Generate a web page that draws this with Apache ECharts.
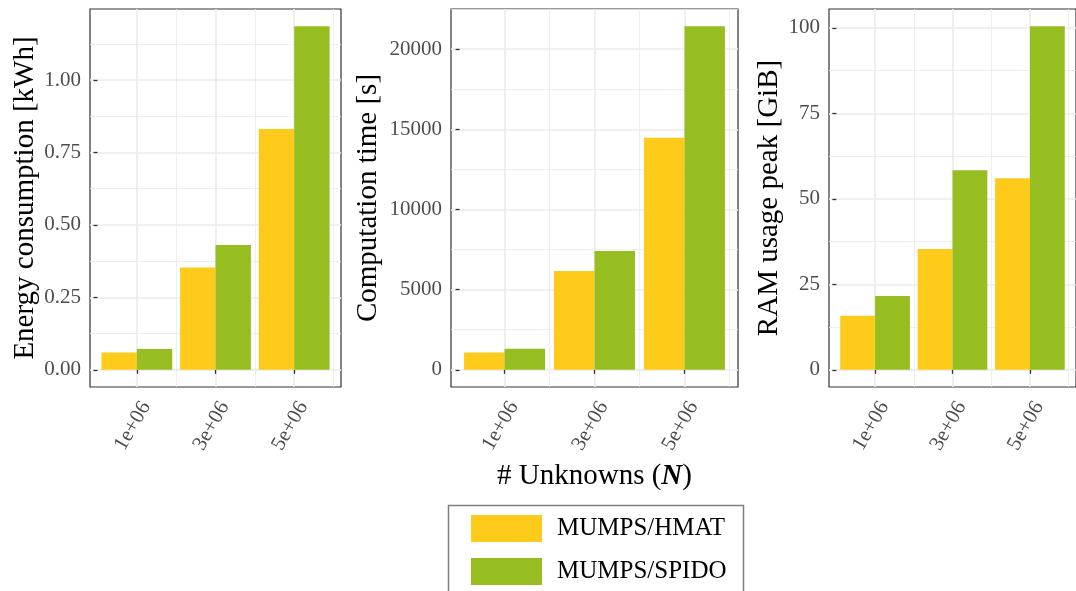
<!DOCTYPE html>
<html>
<head>
<meta charset="utf-8">
<script src="https://cdn.jsdelivr.net/npm/echarts@6/dist/echarts.min.js"></script>
<style>
html,body{margin:0;padding:0;background:#fff;}
#chart{width:1076px;height:591px;}
</style>
</head>
<body>
<div id="chart"></div>
<script>
// ---- data ----
const unknowns = [1e6, 3e6, 5e6];
const xTickLabels = ['1e+06', '3e+06', '5e+06'];
const xMinorTicks = [2e6, 4e6, 6e6];
const seriesNames = ['MUMPS/HMAT', 'MUMPS/SPIDO'];

const energyHMAT = [0.060, 0.353, 0.831];
const energySPIDO = [0.072, 0.431, 1.186];
const timeHMAT = [1078, 6168, 14474];
const timeSPIDO = [1308, 7414, 21433];
const ramHMAT = [15.8, 35.35, 56.0];
const ramSPIDO = [21.6, 58.4, 100.5];

const energyTicks = [0, 0.25, 0.5, 0.75, 1.0];
const energyMinor = [0.125, 0.375, 0.625, 0.875, 1.125];
const timeTicks = [0, 5000, 10000, 15000, 20000];
const timeMinor = [2500, 7500, 12500, 17500, 22500];
const ramTicks = [0, 25, 50, 75, 100];
const ramMinor = [12.5, 37.5, 62.5, 87.5];

const yTitles = ['Energy consumption [kWh]', 'Computation time [s]', 'RAM usage peak [GiB]'];

// ---- style ----
const colors = ['#FECB1A', '#97BE20'];
const FONT = 'Liberation Serif';
const gridColor = '#EBEBEB';

const panels = [
  {left: 90, width: 251, hmat: energyHMAT, spido: energySPIDO, ticks: energyTicks, minor: energyMinor, fmt: v => v.toFixed(2), nameGap: 50},
  {left: 451, width: 287, hmat: timeHMAT, spido: timeSPIDO, ticks: timeTicks, minor: timeMinor, fmt: v => String(v), nameGap: 68},
  {left: 829, width: 255, hmat: ramHMAT, spido: ramSPIDO, ticks: ramTicks, minor: ramMinor, fmt: v => String(v), nameGap: 45}
];

const xMin = unknowns[0] - 0.9e6 - 0.05 * ((unknowns[2] + 0.9e6) - (unknowns[0] - 0.9e6));
const xMax = unknowns[2] + 0.9e6 + 0.05 * ((unknowns[2] + 0.9e6) - (unknowns[0] - 0.9e6));

const grid = [], xAxis = [], yAxis = [], series = [];
panels.forEach((p, i) => {
  const maxV = Math.max(...p.hmat, ...p.spido);
  const yMin = -0.05 * maxV, yMax = 1.05 * maxV;
  grid.push({left: p.left, top: 9, width: p.width, height: 378, show: true,
    borderColor: '#333333', borderWidth: 1.2, backgroundColor: 'transparent'});
  // major x
  xAxis.push({type: 'value', gridIndex: i, min: xMin, max: xMax,
    axisLine: {show: false},
    axisTick: {show: true, length: 4, lineStyle: {color: '#333', width: 1.3}, customValues: unknowns},
    axisLabel: {customValues: unknowns, rotate: 60, margin: 11, color: '#4D4D4D', fontFamily: FONT, fontSize: 21,
      align: 'right', verticalAlign: 'top',
      formatter: v => xTickLabels[unknowns.indexOf(v)]},
    splitLine: {show: true, lineStyle: {color: gridColor, width: 1.6}},
    name: i === 1 ? '{t|# Unknowns (}{b|N}{t|)}' : '',
    nameLocation: 'middle', nameGap: 68,
    nameTextStyle: {rich: {t: {fontFamily: FONT, fontSize: 29, color: '#000'}, b: {fontFamily: FONT, fontSize: 29, fontWeight: 'bold', fontStyle: 'italic', color: '#000'}}}
  });
  // minor x
  xAxis.push({type: 'value', gridIndex: i, min: xMin, max: xMax,
    axisLine: {show: false}, axisTick: {show: false, customValues: xMinorTicks},
    axisLabel: {show: false, customValues: xMinorTicks},
    splitLine: {show: true, lineStyle: {color: gridColor, width: 0.8}}});
  // major y
  yAxis.push({type: 'value', gridIndex: i, min: yMin, max: yMax,
    axisLine: {show: false},
    axisTick: {show: true, length: 4, lineStyle: {color: '#333', width: 1.3}, customValues: p.ticks},
    axisLabel: {customValues: p.ticks, margin: 9, color: '#4D4D4D', fontFamily: FONT, fontSize: 21, formatter: p.fmt},
    splitLine: {show: true, lineStyle: {color: gridColor, width: 1.6}},
    name: yTitles[i], nameLocation: 'middle', nameRotate: 90, nameGap: p.nameGap,
    nameTextStyle: {fontFamily: FONT, fontSize: 29, color: '#000'}
  });
  // minor y
  yAxis.push({type: 'value', gridIndex: i, min: yMin, max: yMax,
    axisLine: {show: false}, axisTick: {show: false, customValues: p.minor},
    axisLabel: {show: false, customValues: p.minor},
    splitLine: {show: true, lineStyle: {color: gridColor, width: 0.8}}});

  [p.hmat, p.spido].forEach((vals, k) => {
    series.push({type: 'bar', name: seriesNames[k], xAxisIndex: 2 * i, yAxisIndex: 2 * i,
      data: unknowns.map((u, j) => [u, vals[j]]),
      barGap: '0%', barCategoryGap: '10%',
      itemStyle: {color: colors[k]}, emphasis: {disabled: true}, silent: true});
  });
});

const legendBase = {
  left: 471, padding: 0, itemWidth: 71, itemHeight: 27, icon: 'rect',
  textStyle: {fontFamily: FONT, fontSize: 25, color: '#000', padding: [0, 0, 0, 10]}
};

const chart = echarts.init(document.getElementById('chart'), null, {renderer: 'canvas'});
chart.setOption({
  animation: false,
  backgroundColor: '#ffffff',
  color: colors,
  grid, xAxis, yAxis, series,
  legend: [
    Object.assign({}, legendBase, {data: [seriesNames[0]], top: 515}),
    Object.assign({}, legendBase, {data: [seriesNames[1]], top: 558})
  ],
  graphic: [{
    type: 'rect', left: 446, top: 503, silent: true,
    shape: {width: 295, height: 100},
    style: {fill: 'none', stroke: '#7F7F7F', lineWidth: 1.5}
  }]
});
</script>
</body>
</html>
